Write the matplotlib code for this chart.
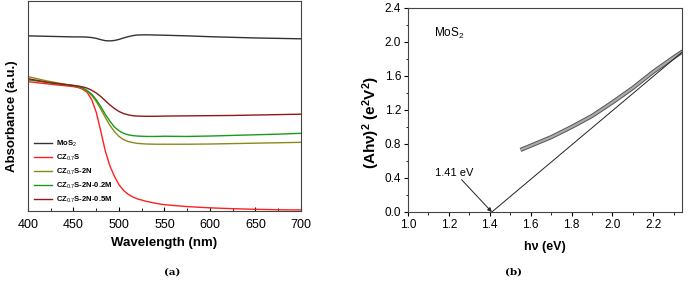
import matplotlib
matplotlib.use("Agg")
import matplotlib.pyplot as plt
from matplotlib.ticker import MultipleLocator, FormatStrFormatter

plt.rcParams['font.family'] = ['Liberation Sans', 'DejaVu Sans']
plt.rcParams['mathtext.fontset'] = 'custom'
plt.rcParams['mathtext.rm'] = 'Liberation Sans'
plt.rcParams['mathtext.bf'] = 'Liberation Sans:bold'
plt.rcParams['mathtext.it'] = 'Liberation Sans:italic'

# ---- Panel (a) data: absorbance (arbitrary units) ----
wl = [400, 410, 420, 430, 440, 450, 455, 460, 465, 470, 475, 480, 485, 490, 495,
      500, 505, 510, 515, 520, 530, 540, 550, 575, 600, 625, 650, 675, 700]
abs_mos2 = [0.834, 0.833, 0.832, 0.831, 0.830, 0.829, 0.829, 0.829, 0.828, 0.826, 0.822, 0.816, 0.811, 0.810, 0.812,
            0.817, 0.824, 0.830, 0.835, 0.838, 0.839, 0.838, 0.837, 0.834, 0.830, 0.827, 0.824, 0.822, 0.820]
abs_cz = [0.616, 0.611, 0.606, 0.601, 0.597, 0.592, 0.588, 0.580, 0.565, 0.530, 0.470, 0.380, 0.285, 0.215, 0.165,
          0.125, 0.098, 0.080, 0.067, 0.058, 0.046, 0.037, 0.030, 0.021, 0.015, 0.011, 0.008, 0.006, 0.005]
abs_cz2n = [0.640, 0.630, 0.620, 0.612, 0.604, 0.597, 0.592, 0.584, 0.570, 0.550, 0.522, 0.485, 0.445, 0.408, 0.378,
            0.355, 0.340, 0.331, 0.326, 0.322, 0.319, 0.318, 0.318, 0.318, 0.319, 0.321, 0.323, 0.325, 0.327]
abs_cz02 = [0.625, 0.619, 0.613, 0.607, 0.602, 0.597, 0.593, 0.586, 0.574, 0.556, 0.530, 0.497, 0.460, 0.428, 0.400,
            0.382, 0.370, 0.363, 0.359, 0.357, 0.355, 0.355, 0.356, 0.355, 0.357, 0.360, 0.363, 0.366, 0.370]
abs_cz05 = [0.630, 0.622, 0.614, 0.608, 0.603, 0.598, 0.595, 0.591, 0.585, 0.575, 0.562, 0.545, 0.525, 0.505, 0.488,
            0.474, 0.464, 0.458, 0.454, 0.452, 0.451, 0.451, 0.452, 0.453, 0.454, 0.455, 0.457, 0.459, 0.461]
labels_a = ["MoS$_2$", "CZ$_{0.7}$S", "CZ$_{0.7}$S-2N", "CZ$_{0.7}$S-2N-0.2M", "CZ$_{0.7}$S-2N-0.5M"]
colors_a = ["#333333", "#ff2020", "#8a8a1a", "#1a9a1a", "#8b1a1a"]

# ---- Panel (b) data: Tauc plot ----
hv = [1.55, 1.60, 1.70, 1.80, 1.90, 2.00, 2.10, 2.20, 2.30, 2.35]
tauc = [0.73, 0.78, 0.88, 1.00, 1.13, 1.29, 1.46, 1.65, 1.82, 1.90]
fit_x = [1.41, 2.35]
fit_y = [0.0, 1.90]
gap_text = "1.41 eV"

fig = plt.figure(figsize=(6.89, 2.83), dpi=100)

# Panel (a)
ax1 = fig.add_axes([28/689, 72/283, 273/689, 210/283])
for y, c, l in zip([abs_mos2, abs_cz, abs_cz2n, abs_cz02, abs_cz05], colors_a, labels_a):
    ax1.plot(wl, y, color=c, lw=1.0, label=l)
ax1.set_xlim(400, 700)
ax1.set_ylim(0, 1.0)
ax1.set_yticks([])
ax1.xaxis.set_major_locator(MultipleLocator(50))
ax1.xaxis.set_minor_locator(MultipleLocator(25))
ax1.tick_params(axis='x', which='major', direction='in', length=3, labelsize=9, pad=6)
ax1.tick_params(axis='x', which='minor', direction='in', length=2)
ax1.set_xlabel("Wavelength (nm)", fontsize=9.5, fontweight='bold', labelpad=4)
ax1.set_ylabel("Absorbance (a.u.)", fontsize=9.5, fontweight='bold')
ax1.yaxis.set_label_coords(-0.035, 0.45)
for s in ax1.spines.values():
    s.set_color("#444444")
    s.set_linewidth(0.8)
leg = ax1.legend(loc='lower left', frameon=False, prop={'size': 5.5, 'weight': 'bold'},
                 handlelength=2.4, handletextpad=0.5, labelspacing=0.5,
                 borderaxespad=0.0, bbox_to_anchor=(0.01, 0.015))

# Panel (b)
ax2 = fig.add_axes([408/689, 71/283, 274/689, 204/283])
ax2.plot(hv, tauc, color="#555555", lw=3.0, solid_capstyle='butt')
ax2.plot(hv, tauc, color="#aaaaaa", lw=1.6, solid_capstyle='butt')
ax2.plot(fit_x, fit_y, color="#222222", lw=0.7)
ax2.annotate("", xy=(1.41, 0.0), xytext=(1.262, 0.38),
             arrowprops=dict(arrowstyle='-|>', color='#222222', lw=0.7, mutation_scale=6,
                             shrinkA=0, shrinkB=0))
ax2.text(1.13, 0.46, gap_text, fontsize=8, va='center', ha='left')
ax2.text(1.125, 2.1, "MoS$_2$", fontsize=8.5, va='center')
ax2.set_xlim(1.0, 2.34)
ax2.set_ylim(0, 2.4)
ax2.xaxis.set_major_locator(MultipleLocator(0.2))
ax2.xaxis.set_minor_locator(MultipleLocator(0.1))
ax2.yaxis.set_major_locator(MultipleLocator(0.4))
ax2.yaxis.set_minor_locator(MultipleLocator(0.2))
ax2.tick_params(which='major', direction='out', length=3, labelsize=8.5, pad=2)
ax2.tick_params(which='minor', direction='out', length=1.8)
ax2.xaxis.set_major_formatter(FormatStrFormatter('%.1f'))
ax2.yaxis.set_major_formatter(FormatStrFormatter('%.1f'))
ax2.set_xlabel("hν (eV)", fontsize=9, fontweight='bold', labelpad=7)
ax2.set_ylabel("(Ahν)$^\\mathbf{2}$ (e$^\\mathbf{2}$V$^\\mathbf{2}$)", fontsize=11, fontweight='bold')
ax2.yaxis.set_label_coords(-0.095, 0.44)
for s in ax2.spines.values():
    s.set_color("#444444")
    s.set_linewidth(0.8)

fig.text(172/689, 1 - 272/283, "(a)", fontsize=7.5, fontweight='bold', family='DejaVu Serif', ha='center', va='center')
fig.text(513/689, 1 - 272/283, "(b)", fontsize=7.5, fontweight='bold', family='DejaVu Serif', ha='center', va='center')

fig.savefig("out.png", dpi=100)
